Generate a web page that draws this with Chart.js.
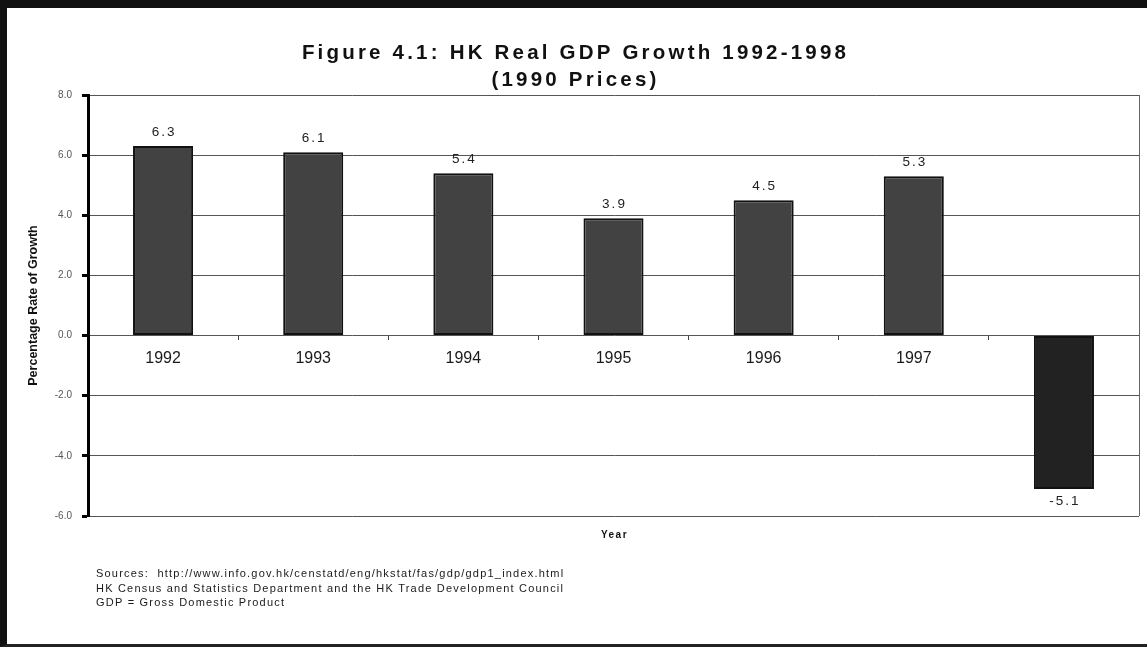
<!DOCTYPE html>
<html>
<head>
<meta charset="utf-8">
<script src="https://cdn.jsdelivr.net/npm/chart.js@4/dist/chart.umd.min.js"></script>
<style>
html, body { margin: 0; padding: 0; background: #fff; }
#wrap { position: relative; width: 1147px; height: 647px; }
#frame {
    position: absolute; left: 0; top: 0; width: 1147px; height: 647px;
    box-sizing: border-box; pointer-events: none;
    border-left: 7px solid #111; border-top: 8px solid #111;
    border-bottom: 3px solid #222;
}
</style>
</head>
<body>
<div id="wrap">
  <canvas id="chartcontainer" width="1147" height="647"></canvas>
  <div id="frame"></div>
</div>
<script>
// données
var years = ["1992", "1993", "1994", "1995", "1996", "1997", "1998"];
var growth = [6.3, 6.1, 5.4, 3.9, 4.5, 5.3, -5.1];
var barColors = ["#424242", "#424242", "#424242", "#424242", "#424242", "#424242", "#222222"];
var yMin = -6, yMax = 8, yStep = 2;
var titleLines = ["Figure 4.1: HK Real GDP Growth 1992-1998", "(1990 Prices)"];
var yTitle = "Percentage Rate of Growth";
var xTitle = "Year";
var sourceLines = [
    "Sources:  http://www.info.gov.hk/censtatd/eng/hkstat/fas/gdp/gdp1_index.html",
    "HK Census and Statistics Department and the HK Trade Development Council",
    "GDP = Gross Domestic Product"
];

var FONT = "'Liberation Sans', Arial, sans-serif";

// titre en haut, avec espacement des lettres
var titlePlugin = {
    id: 'titlePlugin',
    afterDraw: function(chart) {
        var ctx = chart.ctx;
        ctx.save();
        ctx.letterSpacing = '3.2px';
        ctx.fillStyle = '#111';
        ctx.font = 'bold 20.5px ' + FONT;
        ctx.textAlign = 'center';
        ctx.textBaseline = 'middle';
        ctx.fillText(titleLines[0], chart.width / 2 + 2, 53);
        ctx.fillText(titleLines[1], chart.width / 2 + 2, 80);
        ctx.restore();
    }
};

// valeurs au-dessus / au-dessous des barres
var valueLabels = {
    id: 'valueLabels',
    afterDatasetsDraw: function(chart) {
        var ctx = chart.ctx;
        var meta = chart.getDatasetMeta(0);
        ctx.save();
        ctx.letterSpacing = '2px';
        ctx.fillStyle = '#222';
        ctx.font = '13.5px ' + FONT;
        ctx.textAlign = 'center';
        ctx.textBaseline = 'middle';
        meta.data.forEach(function(bar, i) {
            var v = growth[i];
            var y = v >= 0 ? bar.y - 14 : bar.y + 12;
            ctx.fillText(v.toFixed(1), bar.x + 1, y);
        });
        ctx.restore();
    }
};

// bord droit de la zone de tracé, titre de l'axe x et sources
var extras = {
    id: 'extras',
    beforeDatasetsDraw: function(chart) {
        var a = chart.chartArea, ctx = chart.ctx;
        ctx.save();
        ctx.strokeStyle = '#666';
        ctx.lineWidth = 1;
        ctx.beginPath();
        ctx.moveTo(a.right + 0.5, a.top);
        ctx.lineTo(a.right + 0.5, a.bottom);
        ctx.stroke();
        ctx.restore();
    },
    afterDraw: function(chart) {
        var a = chart.chartArea, ctx = chart.ctx;
        ctx.save();
        ctx.fillStyle = '#111';
        ctx.letterSpacing = '1.5px';
        ctx.font = 'bold 10px ' + FONT;
        ctx.textAlign = 'center';
        ctx.textBaseline = 'middle';
        ctx.fillText(xTitle, (a.left + a.right) / 2 + 1, 535);
        ctx.letterSpacing = '1.2px';
        ctx.font = '11px ' + FONT;
        ctx.textAlign = 'left';
        ctx.fillStyle = '#1a1a1a';
        for (var i = 0; i < sourceLines.length; i++) {
            ctx.fillText(sourceLines[i], 96, 574 + i * 14.5);
        }
        ctx.restore();
    }
};

var ctx = document.getElementById('chartcontainer').getContext('2d');
var chart = new Chart(ctx, {
    type: 'bar',
    data: {
        labels: years,
        datasets: [{
            data: growth,
            backgroundColor: barColors,
            borderColor: '#111',
            borderWidth: 2,
            borderSkipped: false,
            barPercentage: 0.4,
            categoryPercentage: 1.0
        }]
    },
    options: {
        responsive: false,
        animation: false,
        layout: { padding: { left: 0, right: 8, top: 95, bottom: 131 } },
        plugins: {
            legend: { display: false },
            tooltip: { enabled: false },
            title: { display: false }
        },
        scales: {
            x: {
                type: 'category',
                position: { y: 0 },
                offset: true,
                grid: {
                    display: true,
                    drawOnChartArea: false,
                    offset: true,
                    tickLength: 4,
                    color: '#444'
                },
                border: { display: false },
                ticks: {
                    color: '#1a1a1a',
                    padding: 9,
                    font: { family: FONT, size: 16 }
                }
            },
            y: {
                min: yMin,
                max: yMax,
                afterFit: function(s) { s.width = 88; },
                ticks: {
                    stepSize: yStep,
                    color: '#555',
                    padding: 10,
                    font: { family: FONT, size: 10 },
                    callback: function(v) { return Number(v).toFixed(1); }
                },
                grid: {
                    color: '#555',
                    lineWidth: 1,
                    tickColor: '#000',
                    tickWidth: 3,
                    tickLength: 6
                },
                border: { display: true, color: '#000', width: 3 },
                title: {
                    display: true,
                    text: yTitle,
                    color: '#111',
                    font: { family: FONT, size: 12.5, weight: 'bold' },
                    padding: { top: 26, bottom: 0 }
                }
            }
        }
    },
    plugins: [titlePlugin, valueLabels, extras]
});
</script>
</body>
</html>
